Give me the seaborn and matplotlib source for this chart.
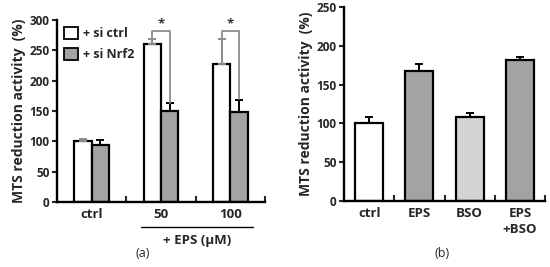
import numpy as np
import pandas as pd
import matplotlib
matplotlib.use("Agg")
import matplotlib.pyplot as plt
import seaborn as sns
from matplotlib.patches import Patch

# --- DATA ---
# panel (a)
groups_a = ["ctrl", "50", "100"]
ctrl_mean = [100, 261, 228]
ctrl_err = [4, 8, 41]
nrf2_mean = [94, 150, 149]
nrf2_err = [8, 13, 19]
# panel (b)
groups_b = ["ctrl", "EPS", "BSO", "EPS\n+BSO"]
b_mean = [100, 168, 108, 182]
b_err = [8, 9, 6, 3]

WHITE = "#ffffff"
GRAY = "#a3a3a3"
LIGHT = "#d4d4d4"

sns.set_style("white")
plt.rcParams["font.family"] = ["Open Sans", "DejaVu Sans"]

fig = plt.figure(figsize=(5.5, 2.67), dpi=100)
ax1 = fig.add_axes([0.1036, 0.2434, 0.378, 0.6816])
ax2 = fig.add_axes([0.6255, 0.2472, 0.3655, 0.7266])


def style_axis(ax, n, ymax, step):
    for s in ["top", "right"]:
        ax.spines[s].set_visible(False)
    for s in ["left", "bottom"]:
        ax.spines[s].set_linewidth(1.7)
        ax.spines[s].set_color("black")
    ax.set_xlim(-0.5, n - 0.5)
    ax.set_ylim(0, ymax)
    ax.set_yticks(np.arange(0, ymax + 1, step))
    ax.set_xticks(np.arange(n) + 0.5, minor=True)
    ax.tick_params(axis="y", which="major", direction="out", length=3.5, width=1.5,
                   labelsize=8.5, pad=2, left=True)
    ax.tick_params(axis="x", which="major", length=0, labelsize=9.5, pad=4)
    ax.tick_params(axis="x", which="minor", direction="in", length=4, width=1.5, bottom=True)
    for lab in ax.get_yticklabels() + ax.get_xticklabels():
        lab.set_fontweight("bold")
    ax.set_ylabel("MTS reduction activity  (%)", fontsize=10, fontweight="bold", labelpad=2)
    ax.set_xlabel("")


# ---- PANEL (a) ----
df_a = pd.DataFrame({
    "group": groups_a * 2,
    "cond": ["+ si ctrl"] * 3 + ["+ si Nrf2"] * 3,
    "value": ctrl_mean + nrf2_mean,
})
sns.barplot(data=df_a, x="group", y="value", hue="cond", palette=[WHITE, GRAY],
            width=0.5, edgecolor="black", linewidth=1.6, errorbar=None,
            saturation=1, ax=ax1, legend=False)

tops = {}
for cont, errs, means, ecol in zip(ax1.containers, [ctrl_err, nrf2_err],
                                   [ctrl_mean, nrf2_mean], ["#8c8c8c", "black"]):
    xs = [p.get_x() + p.get_width() / 2 for p in cont.patches]
    ax1.errorbar(xs, means, yerr=[np.zeros(len(errs)), errs], fmt="none",
                 ecolor=ecol, elinewidth=1.4, capsize=3, capthick=1.4, zorder=3)
    tops[ecol] = [(x, m + e) for x, m, e in zip(xs, means, errs)]

# significance brackets
for i in [1, 2]:
    (xl, yl), (xr, yr) = tops["#8c8c8c"][i], tops["black"][i]
    ytop = 282
    ax1.plot([xl, xl, xr, xr], [yl + 1, ytop, ytop, yr + 1], color="#8c8c8c",
             lw=1.3, clip_on=False, zorder=4)
    ax1.text((xl + xr) / 2, ytop + 1, "*", ha="center", va="bottom", fontsize=9.5,
             fontweight="bold", color="#333333")

style_axis(ax1, 3, 300, 50)

handles = [Patch(facecolor=WHITE, edgecolor="black", linewidth=1.3, label="+ si ctrl"),
           Patch(facecolor=GRAY, edgecolor="black", linewidth=1.3, label="+ si Nrf2")]
ax1.legend(handles=handles, loc="upper left", bbox_to_anchor=(0.01, 0.99), frameon=False,
           handlelength=1.1, handleheight=1.1, handletextpad=0.4, labelspacing=0.65,
           borderaxespad=0, prop={"weight": "bold", "size": 9})

# "+ EPS (uM)" underline and label
tr = ax1.get_xaxis_transform()
ax1.plot([0.71, 2.33], [-0.137, -0.137], color="black", lw=1.0, transform=tr, clip_on=False)
ax1.text(1.52, -0.21, "+ EPS (\u03bcM)", transform=tr, ha="center", va="center",
         fontsize=9.5, fontweight="bold")

# ---- PANEL (b) ----
df_b = pd.DataFrame({"group": groups_b, "value": b_mean})
sns.barplot(data=df_b, x="group", y="value", hue="group",
            palette=[WHITE, GRAY, LIGHT, GRAY], width=0.56, edgecolor="black",
            linewidth=1.6, errorbar=None, saturation=1, ax=ax2, legend=False)
xs_b = np.arange(len(groups_b))
ax2.errorbar(xs_b, b_mean, yerr=[np.zeros(len(b_err)), b_err], fmt="none",
             ecolor="black", elinewidth=1.4, capsize=3, capthick=1.4, zorder=3)
style_axis(ax2, 4, 250, 50)
for lab in ax2.get_xticklabels():
    lab.set_linespacing(1.35)
    lab.set_verticalalignment("top")

fig.text(0.26, 0.05, "(a)", ha="center", va="center", fontsize=9)
fig.text(0.804, 0.05, "(b)", ha="center", va="center", fontsize=9)

fig.savefig("out.png", dpi=100)
